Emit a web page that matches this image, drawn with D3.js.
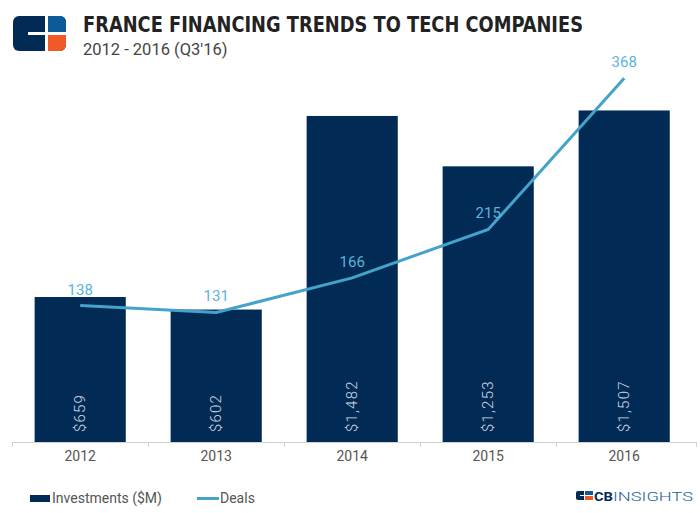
<!DOCTYPE html>
<html><head><meta charset="utf-8">
<script src="https://cdn.jsdelivr.net/npm/d3@7"></script>
<style>body{margin:0;background:#fff}svg{display:block}</style>
</head><body>
<svg id="c" width="700" height="513"></svg>
<script>
const years = ["2012","2013","2014","2015","2016"];
const investments = [659, 602, 1482, 1253, 1507];
const investmentLabels = ["$659","$602","$1,482","$1,253","$1,507"];
const deals = [138, 131, 166, 215, 368];
const title = "FRANCE FINANCING TRENDS TO TECH COMPANIES";
const subtitle = "2012 - 2016 (Q3'16)";
const legendLabels = ["Investments ($M)", "Deals"];

const navy = "#012a55", lineCol = "#44a3cb", labelCol = "#5ab4dc";
const svg = d3.select("#c");

// logo
const lg = svg.append("g");
lg.append("rect").attr("x",13).attr("y",16).attr("width",53).attr("height",35).attr("rx",6).attr("fill",navy);
lg.append("path").attr("d","M48,16 H60 A6,6 0 0 1 66,22 V33 H48 Z").attr("fill","#0b5b99");
lg.append("path").attr("d","M48,33 H66 V45 A6,6 0 0 1 60,51 H48 Z").attr("fill","#f05a28");
lg.append("rect").attr("x",45).attr("y",16).attr("width",3).attr("height",35).attr("fill","#fff");
lg.append("rect").attr("x",28).attr("y",32).attr("width",38).attr("height",3).attr("fill","#fff");

svg.append("text").attr("x",83).attr("y",32).text(title)
  .attr("font-family","'DejaVu Sans Condensed','DejaVu Sans',sans-serif").attr("font-weight","bold")
  .attr("font-size",22).attr("fill","#222").attr("textLength",500).attr("lengthAdjust","spacingAndGlyphs");
svg.append("text").attr("x",83).attr("y",55).text(subtitle)
  .attr("font-family","Roboto,sans-serif").attr("font-size",16.5).attr("fill","#444");

const x = d3.scaleBand().domain(years).range([12.2,692.2]).paddingInner(0.33).paddingOuter(0.165);
const y = d3.scaleLinear().domain([0,1600]).range([442,90]);
const y2 = d3.scaleLinear().domain([0,356]).range([442,90]);

svg.append("g").selectAll("rect").data(years).join("rect")
  .attr("x",d=>x(d)).attr("width",x.bandwidth())
  .attr("y",(d,i)=>y(investments[i])).attr("height",(d,i)=>y(0)-y(investments[i]))
  .attr("fill",navy);

svg.append("g").selectAll("text").data(years).join("text")
  .attr("transform",d=>`translate(${x(d)+x.bandwidth()/2+5},432) rotate(-90)`)
  .text((d,i)=>investmentLabels[i])
  .attr("font-family","Roboto,sans-serif").attr("font-weight",300).attr("font-size",15)
  .attr("letter-spacing",1.2).attr("fill","#d5dde6");

// axis
const ax = svg.append("g").attr("transform","translate(0,442)")
  .call(d3.axisBottom(x).tickSize(0).tickPadding(9));
ax.select(".domain").attr("stroke","#d0d0d0").attr("d","M12,0.5H696");
ax.selectAll("text").attr("font-family","Roboto,sans-serif").attr("font-size",14).attr("fill","#555");
const bounds = years.map(d=>x(d)-x.step()*x.paddingInner()/2).concat([696]);
ax.selectAll(".bt").data(bounds).join("line").attr("class","bt")
  .attr("x1",d=>Math.round(d)+0.5).attr("x2",d=>Math.round(d)+0.5).attr("y1",0).attr("y2",5).attr("stroke","#d0d0d0");

// line
const line = d3.line().x((d,i)=>x(years[i])+x.bandwidth()/2).y(d=>y2(d));
svg.append("path").datum(deals).attr("d",line).attr("fill","none").attr("stroke",lineCol).attr("stroke-width",3);
svg.append("g").selectAll("text").data(deals).join("text")
  .attr("x",(d,i)=>x(years[i])+x.bandwidth()/2).attr("y",d=>y2(d)-11)
  .attr("text-anchor","middle").text(d=>d)
  .attr("font-family","Roboto,sans-serif").attr("font-size",15).attr("fill",labelCol);

// legend
svg.append("rect").attr("x",30).attr("y",495).attr("width",20).attr("height",7).attr("fill",navy);
svg.append("text").attr("x",52).attr("y",503).text(legendLabels[0])
  .attr("font-family","Roboto,sans-serif").attr("font-size",14).attr("fill","#555");
svg.append("line").attr("x1",197).attr("x2",219).attr("y1",498.5).attr("y2",498.5).attr("stroke",lineCol).attr("stroke-width",3);
svg.append("text").attr("x",220).attr("y",503).text(legendLabels[1])
  .attr("font-family","Roboto,sans-serif").attr("font-size",14).attr("fill","#555");

// CB Insights logo
const cb = svg.append("g");
cb.append("rect").attr("x",576).attr("y",491).attr("width",17).attr("height",9).attr("rx",2).attr("fill",navy);
cb.append("rect").attr("x",585).attr("y",491).attr("width",8).attr("height",4).attr("fill","#0b5b99");
cb.append("rect").attr("x",585).attr("y",496).attr("width",8).attr("height",4).attr("fill","#f05a28");
cb.append("rect").attr("x",584).attr("y",491).attr("width",1).attr("height",9).attr("fill","#fff");
cb.append("rect").attr("x",580).attr("y",495).attr("width",13).attr("height",1).attr("fill","#fff");
cb.append("text").attr("x",594).attr("y",501).text("CB").attr("font-family","Roboto,sans-serif")
  .attr("font-weight","bold").attr("font-size",13).attr("fill",navy).attr("textLength",19).attr("lengthAdjust","spacingAndGlyphs");
cb.append("text").attr("x",613).attr("y",501).text("INSIGHTS").attr("font-family","Roboto,sans-serif")
  .attr("font-weight",300).attr("font-size",13).attr("fill","#1d5f9a").attr("textLength",80).attr("lengthAdjust","spacingAndGlyphs");
</script>
</body></html>
